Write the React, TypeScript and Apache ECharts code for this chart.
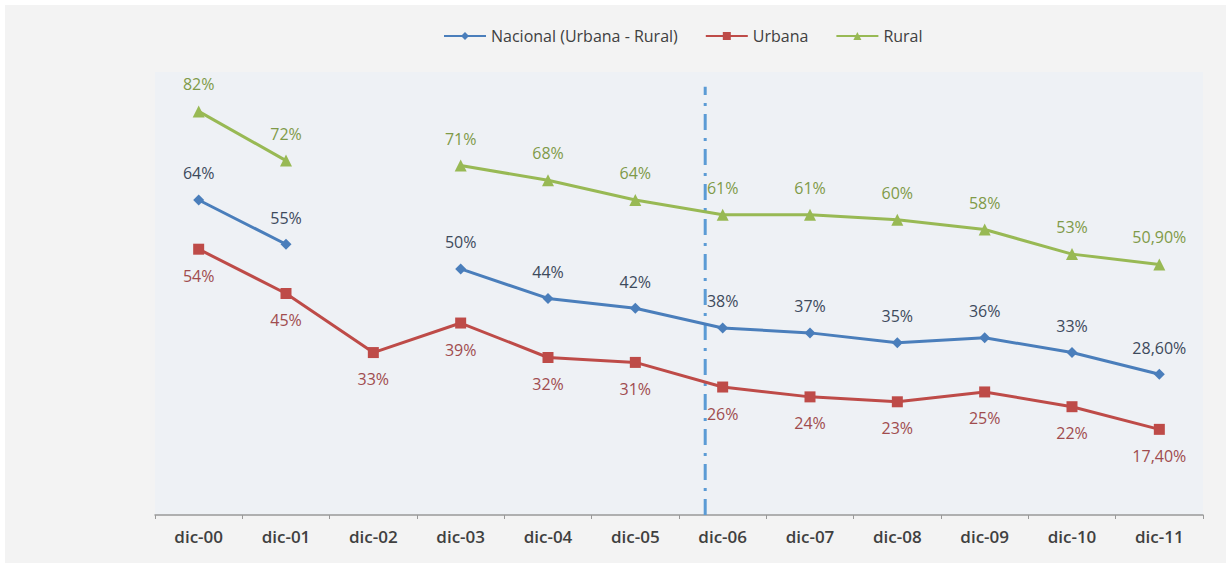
import React, { useEffect, useRef } from "react";
import * as echarts from "echarts";

const categories = ["dic-00", "dic-01", "dic-02", "dic-03", "dic-04", "dic-05", "dic-06", "dic-07", "dic-08", "dic-09", "dic-10", "dic-11"];
const nacional = [64, 55, null, 50, 44, 42, 38, 37, 35, 36, 33, 28.6];
const urbana = [54, 45, 33, 39, 32, 31, 26, 24, 23, 25, 22, 17.4];
const rural = [82, 72, null, 71, 68, 64, 61, 61, 60, 58, 53, 50.9];
const seriesNames = ["Nacional (Urbana - Rural)", "Urbana", "Rural"];
const markerPosition = 5.8;
const markerTop = 87;

const fmt = (v: number) =>
  (Number.isInteger(v) ? String(v) : v.toFixed(2).replace(".", ",")) + "%";

export default function App() {
  const ref = useRef<HTMLDivElement>(null);
  useEffect(() => {
    document.body.style.margin = "0";
    const chart = echarts.init(ref.current!, null, { renderer: "svg" });
    const font = "'Open Sans', Lato, sans-serif";
    const mk = (name: string, data: any[], color: string, symbol: string, size: number, labelColor: string, pos: string) => ({
      name,
      type: "line",
      data,
      connectNulls: false,
      symbol,
      symbolSize: size,
      itemStyle: { color },
      lineStyle: { color, width: 3 },
      label: {
        show: true,
        position: pos,
        distance: 13,
        color: labelColor,
        fontSize: 16,
        fontFamily: font,
        formatter: (p: any) => fmt(p.value),
      },
      z: 3,
    });
    chart.setOption({
      animation: false,
      backgroundColor: "#f3f3f3",
      textStyle: { fontFamily: font },
      legend: {
        top: 18,
        left: 433,
        itemWidth: 42,
        itemHeight: 10,
        itemGap: 27,
        data: seriesNames,
        textStyle: { color: "#404040", fontSize: 16, fontFamily: font },
      },
      grid: {
        show: true,
        left: 150,
        right: 23,
        top: 67,
        bottom: 48,
        backgroundColor: "#eef1f5",
        borderWidth: 0,
      },
      xAxis: [
        {
          type: "category",
          data: categories,
          boundaryGap: true,
          axisLine: { lineStyle: { color: "#999", width: 1.5 } },
          axisTick: { show: true, length: 4, lineStyle: { color: "#999" } },
          axisLabel: { color: "#404040", fontSize: 17, fontWeight: 600, margin: 13, fontFamily: font },
        },
        { type: "value", min: -0.5, max: 11.5, show: false },
      ],
      yAxis: { type: "value", min: 0, max: 90, show: false, splitLine: { show: false } },
      series: [
        mk(seriesNames[0], nacional, "#4a7ebb", "diamond", 11, "#3d4a5c", "top"),
        mk(seriesNames[1], urbana, "#be4b48", "rect", 11, "#a04c4e", "bottom"),
        mk(seriesNames[2], rural, "#98b954", "triangle", 12, "#7f9a48", "top"),
        {
          type: "line",
          xAxisIndex: 1,
          data: [[markerPosition, 0], [markerPosition, markerTop]],
          symbol: "none",
          lineStyle: { color: "#5b9bd5", width: 3, type: [16, 8, 3, 8] },
          silent: true,
          z: 2,
        },
      ],
    });
    return () => chart.dispose();
  }, []);
  return (
    <div style={{ width: 1226, height: 563, background: "#ffffff", position: "relative" }}>
      <div ref={ref} style={{ position: "absolute", left: 5, top: 5, width: 1221, height: 558 }} />
    </div>
  );
}
